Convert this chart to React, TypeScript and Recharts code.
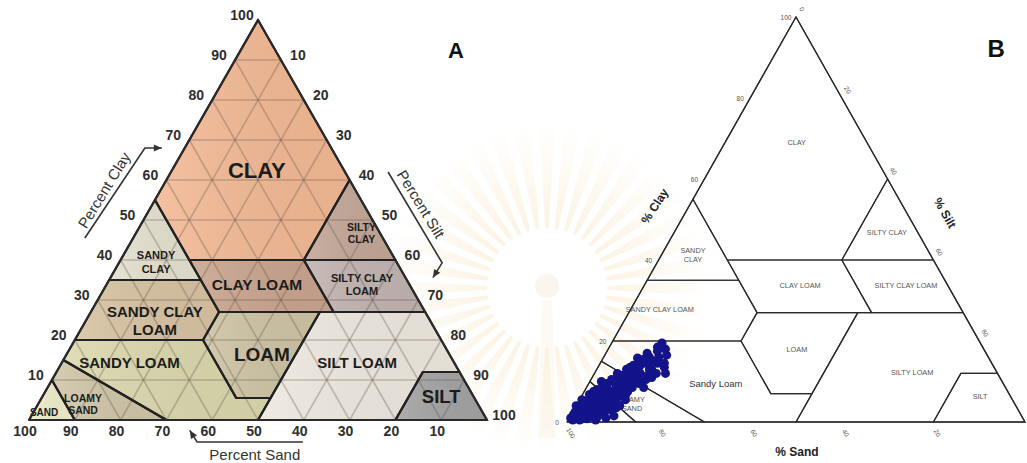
import React from "react";
import { ScatterChart, Scatter, XAxis, YAxis, ZAxis, ReferenceArea } from "recharts";

const FONT = "'Liberation Sans', Arial, Helvetica, sans-serif";

type Pt = [number, number]; // [sand %, clay %]

// texture classes, panel A (vertices as [sand, clay])
const A_CLAY: Pt[] = [[0, 100], [45, 55], [45, 40], [20, 40], [0, 60]];
const A_SILTY_CLAY: Pt[] = [[0, 60], [20, 40], [0, 40]];
const A_SANDY_CLAY: Pt[] = [[45, 55], [65, 35], [45, 35]];
const A_CLAY_LOAM: Pt[] = [[45, 40], [45, 27], [20, 27], [20, 40]];
const A_SILTY_CLAY_LOAM: Pt[] = [[20, 40], [20, 27], [0, 27], [0, 40]];
const A_SANDY_CLAY_LOAM: Pt[] = [[65, 35], [80, 20], [52, 20], [45, 27], [45, 35]];
const A_LOAM: Pt[] = [[45, 27], [52, 20], [52, 5.5], [44.5, 5.5], [23, 27]];
const A_SILT_LOAM: Pt[] = [[23, 27], [44.5, 5.5], [50, 0], [20, 0], [8, 12], [0, 12], [0, 27]];
const A_SILT: Pt[] = [[20, 0], [8, 12], [0, 12], [0, 0]];
const A_SANDY_LOAM: Pt[] = [[80, 20], [85, 15], [70, 0], [50, 0], [44.5, 5.5], [52, 5.5], [52, 20]];
const A_LOAMY_SAND: Pt[] = [[85, 15], [90, 10], [90, 0], [70, 0]];
const A_SAND: Pt[] = [[100, 0], [90, 10], [90, 0]];

// texture classes, panel B
const B_CLAY: Pt[] = [[0, 100], [45, 55], [45, 40], [20, 40], [0, 60]];
const B_SILTY_CLAY: Pt[] = [[0, 60], [20, 40], [0, 40]];
const B_SANDY_CLAY: Pt[] = [[45, 55], [65, 35], [45, 35]];
const B_CLAY_LOAM: Pt[] = [[45, 40], [45, 27], [20, 27], [20, 40]];
const B_SILTY_CLAY_LOAM: Pt[] = [[20, 40], [20, 27], [0, 27], [0, 40]];
const B_SANDY_CLAY_LOAM: Pt[] = [[65, 35], [80, 20], [52, 20], [45, 27], [45, 35]];
const B_LOAM: Pt[] = [[45, 27], [52, 20], [52, 7], [43, 7], [23, 27]];
const B_SILT_LOAM: Pt[] = [[23, 27], [43, 7], [50, 0], [20, 0], [8, 12], [0, 12], [0, 27]];
const B_SILT: Pt[] = [[20, 0], [8, 12], [0, 12], [0, 0]];
const B_SANDY_LOAM: Pt[] = [[80, 20], [85, 15], [70, 0], [50, 0], [43, 7], [52, 7], [52, 20]];
const B_LOAMY_SAND: Pt[] = [[85, 15], [90, 10], [85, 0], [70, 0]];
const B_SAND: Pt[] = [[100, 0], [90, 10], [85, 0]];

const A_REGIONS: [string, Pt[]][] = [
  ["CLAY", A_CLAY],
  ["SILTY CLAY", A_SILTY_CLAY],
  ["SANDY CLAY", A_SANDY_CLAY],
  ["CLAY LOAM", A_CLAY_LOAM],
  ["SILTY CLAY LOAM", A_SILTY_CLAY_LOAM],
  ["SANDY CLAY LOAM", A_SANDY_CLAY_LOAM],
  ["LOAM", A_LOAM],
  ["SILT LOAM", A_SILT_LOAM],
  ["SILT", A_SILT],
  ["SANDY LOAM", A_SANDY_LOAM],
  ["LOAMY SAND", A_LOAMY_SAND],
  ["SAND", A_SAND],
];

const B_REGIONS: [string, Pt[]][] = [
  ["CLAY", B_CLAY],
  ["SILTY CLAY", B_SILTY_CLAY],
  ["SANDY CLAY", B_SANDY_CLAY],
  ["CLAY LOAM", B_CLAY_LOAM],
  ["SILTY CLAY LOAM", B_SILTY_CLAY_LOAM],
  ["SANDY CLAY LOAM", B_SANDY_CLAY_LOAM],
  ["LOAM", B_LOAM],
  ["SILT LOAM", B_SILT_LOAM],
  ["SILT", B_SILT],
  ["SANDY LOAM", B_SANDY_LOAM],
  ["LOAMY SAND", B_LOAMY_SAND],
  ["SAND", B_SAND],
];

const A_FILL: Record<string, string> = {
  CLAY: "#f3b994",
  "SILTY CLAY": "#c3a797",
  "SANDY CLAY": "#e4e1cf",
  "CLAY LOAM": "#c9a48e",
  "SILTY CLAY LOAM": "#c1b3b0",
  "SANDY CLAY LOAM": "#d8c3a2",
  LOAM: "#cec3a4",
  "SILT LOAM": "#eee8df",
  SILT: "#a3a3a3",
  "SANDY LOAM": "#dbd8ad",
  "LOAMY SAND": "#d0c6a8",
  SAND: "#efedca",
};

// label text and anchor [sand, clay]
const A_LABELS: [string[], number, number][] = [
  [["CLAY"], 19, 62.5],
  [["SILTY", "CLAY"], 4, 46.8],
  [["SANDY", "CLAY"], 52.5, 39.5],
  [["CLAY LOAM"], 33.3, 33.8],
  [["SILTY CLAY", "LOAM"], 10.4, 33.8],
  [["SANDY CLAY", "LOAM"], 60, 25],
  [["LOAM"], 41, 16.3],
  [["SANDY LOAM"], 70.9, 14.3],
  [["SILT LOAM"], 21.1, 14.5],
  [["LOAMY", "SAND"], 86.2, 4],
  [["SAND"], 95.8, 1.8],
  [["SILT"], 7.1, 5.8],
];
const A_LABEL_SIZE: Record<string, number> = {
  CLAY: 22,
  "SILTY CLAY": 10.5,
  "SANDY CLAY": 11,
  "CLAY LOAM": 15.5,
  "SILTY CLAY LOAM": 11,
  "SANDY CLAY LOAM": 15,
  LOAM: 19,
  "SANDY LOAM": 15,
  "SILT LOAM": 15,
  "LOAMY SAND": 10.5,
  SAND: 10,
  SILT: 18.5,
};

const B_LABELS: [string[], number, number][] = [
  [["CLAY"], 15.4, 68.9],
  [["SILTY CLAY"], 6.8, 46.7],
  [["SANDY", "CLAY"], 51.9, 41.2],
  [["CLAY LOAM"], 32.3, 33.6],
  [["SILTY CLAY LOAM"], 9.2, 33.6],
  [["SANDY CLAY LOAM"], 65.9, 27.7],
  [["LOAM"], 40.8, 18],
  [["Sandy Loam"], 62.8, 9.4],
  [["SILTY LOAM"], 18.6, 12.1],
  [["SILT"], 6.7, 6.2],
  [["LOAMY", "SAND"], 83.6, 4.4],
];

const GRID_STEPS = [10, 20, 30, 40, 50, 60, 70, 80, 90];
const A_TICKS = [10, 20, 30, 40, 50, 60, 70, 80, 90, 100];
const B_CLAY_TICKS = [0, 20, 40, 60, 80, 100];
const B_SILT_TICKS = [0, 20, 40, 60, 80];
const B_SAND_TICKS = [20, 40, 60, 80, 100];

// measured samples (panel B), sand % and clay %
const SAND_PCT: number[] = [
  98.5, 96.2, 93.5, 91, 96.5, 94, 91, 89, 97, 94.5, 91.7, 89,
  95.5, 93, 90, 87.5, 86.5, 93.5, 90.5, 87.5, 84.5, 94, 91, 87.8, 85, 84, 91.7, 88.5, 83,
  89.5, 87, 84.5, 81.5, 79, 87.5, 84.5, 82, 79.5, 85, 82.5, 80, 77.5, 87.5, 83.5, 81, 76,
  83, 80.5, 78, 76, 72.5, 80.5, 78, 75.5, 72, 78.5, 75.5, 73, 76.5,
  76.7, 74, 72, 70, 74, 71.5, 69.5, 71, 69.5,
  96, 93, 91.5, 93.7, 92, 89.5, 93.5, 89, 90.2, 91, 86, 88.7, 88.5, 90, 94, 92.8,
  96, 98.7, 87, 82, 86.5, 82, 79, 78,
  98, 97, 95.2, 97.7, 93, 91, 95.5, 93, 91.5, 88.5, 86.5, 88.5, 94.5, 92.5, 90, 87, 85.5,
  90.5, 87.5, 85, 83.5, 87.5, 85, 83, 80.2, 82.5, 79, 78, 79.5, 77, 74, 75.5, 75, 74.5, 71.5,
];
const CLAY_PCT: number[] = [
  0.5, 0.8, 0.5, 1, 1.5, 1.5, 2, 1.5, 2.5, 2.5, 2.8, 3,
  3.5, 3.5, 4, 3.5, 4, 4.5, 5, 5, 5.5, 5.5, 6, 6.2, 6.5, 6.5, 6.8, 7, 7.5,
  8, 8, 8, 8.5, 8.5, 9, 9.5, 9.5, 9.5, 10.5, 10.5, 10.5, 10.5, 10, 11, 11, 11,
  12, 12, 12, 12, 12, 13, 13, 13, 13.5, 14, 14.5, 14.5, 15,
  15.8, 16, 16, 16.5, 17, 17.5, 18, 18.5, 19.5,
  2, 3, 3.5, 3.8, 4.5, 5, 5, 4.5, 5.8, 6.5, 7.5, 7.8, 6.5, 3, 2, 1.2,
  4, 1, 6, 9, 9.5, 11.5, 12, 11,
  1, 0.5, 0.8, 1.8, 2, 2.5, 3, 4, 4, 4, 5.5, 5.5, 4.5, 5.5, 6.5, 7.5, 7,
  7.5, 8.5, 8.5, 8, 9.5, 10, 9.5, 9.8, 11.5, 12.5, 11.5, 13.5, 14, 15, 15.5, 13, 12, 14.5,
];

// triangle corners: left (all sand), right (all silt), apex (all clay)
const CORNERS: Pt[] = [[100, 0], [0, 0], [0, 100], [100, 0]];

const toXY = (sand: number, clay: number) => ({ x: 100 - sand - clay / 2, y: clay });
const OUTLINE = CORNERS.map(([s, c]) => toXY(s, c));
const SAMPLES = SAND_PCT.map((s, i) => toXY(s, CLAY_PCT[i]));

type Box = { x: number; y: number; width: number; height: number };

const makeMap = (b: Box) => {
  const X = (u: number) => b.x + (u / 100) * b.width;
  const Y = (v: number) => b.y + (1 - v / 100) * b.height;
  const P = (s: number, c: number): [number, number] => [X(100 - s - c / 2), Y(c)];
  return { X, Y, P };
};

const polyStr = (P: (s: number, c: number) => [number, number], pts: Pt[]) =>
  pts.map(([s, c]) => P(s, c).join(",")).join(" ");

const arrowHead = (x1: number, y1: number, x2: number, y2: number, size = 8) => {
  const len = Math.hypot(x2 - x1, y2 - y1) || 1;
  const dx = (x2 - x1) / len;
  const dy = (y2 - y1) / len;
  const bx = x2 - dx * size;
  const by = y2 - dy * size;
  const w = size * 0.45;
  return `${x2},${y2} ${bx - dy * w},${by + dx * w} ${bx + dy * w},${by - dx * w}`;
};

const EmptyShape = () => <g />;

const MultiText = ({
  x,
  y,
  lines,
  size,
  gap,
  ...rest
}: {
  x: number;
  y: number;
  lines: string[];
  size: number;
  gap: number;
  [k: string]: any;
}) => (
  <text x={x} y={y} fontSize={size} textAnchor="middle" {...rest}>
    {lines.map((ln, i) => (
      <tspan key={i} x={x} y={y + (i - (lines.length - 1) / 2) * gap} dominantBaseline="central">
        {ln}
      </tspan>
    ))}
  </text>
);

const PanelA = (props: any) => {
  const { X, Y, P } = makeMap(props as Box);
  const tickColor = "#2e2e2e";
  const clayLine: [number, number][] = [[X(12.2), Y(45.5)], [X(25.3), Y(68)], [X(29), Y(68)]];
  const siltLine: [number, number][] = [[X(78.4), Y(62)], [X(90.2), Y(39.3)], [X(88.2), Y(35.6)]];
  const sandLine: [number, number][] = [[X(59.8), Y(-5.5)], [X(36.7), Y(-5.5)], [X(35.1), Y(-2.6)]];
  const path = (l: [number, number][]) => "M" + l.map((p) => p.join(",")).join(" L");
  const head = (l: [number, number][]) => arrowHead(l[1][0], l[1][1], l[2][0], l[2][1], 8);
  return (
    <g fontFamily={FONT}>
      <defs>
        <linearGradient id="shadeA" x1="0" y1="0" x2="1" y2="0">
          <stop offset="0" stopColor="#ffffff" stopOpacity={0.12} />
          <stop offset="1" stopColor="#000000" stopOpacity={0.04} />
        </linearGradient>
      </defs>
      {A_REGIONS.map(([name, pts]) => (
        <polygon key={name} points={polyStr(P, pts)} fill={A_FILL[name]} stroke="none" />
      ))}
      {A_REGIONS.map(([name, pts]) => (
        <polygon key={"g" + name} points={polyStr(P, pts)} fill="url(#shadeA)" stroke="none" />
      ))}
      <g stroke="#5a4c44" strokeOpacity={0.3} strokeWidth={1.6}>
        {GRID_STEPS.map((k) => {
          const a = P(100 - k, k), b = P(0, k);
          const c = P(k, 0), d = P(k, 100 - k);
          const e = P(100 - k, 0), f = P(0, 100 - k);
          return (
            <g key={k}>
              <line x1={a[0]} y1={a[1]} x2={b[0]} y2={b[1]} />
              <line x1={c[0]} y1={c[1]} x2={d[0]} y2={d[1]} />
              <line x1={e[0]} y1={e[1]} x2={f[0]} y2={f[1]} />
            </g>
          );
        })}
      </g>
      {A_REGIONS.map(([name, pts]) => (
        <polygon
          key={name}
          points={polyStr(P, pts)}
          fill="none"
          stroke="#222"
          strokeWidth={2.2}
          strokeLinejoin="round"
        />
      ))}
      {A_LABELS.map(([lines, s, c]) => {
        const key = lines.join(" ");
        const size = A_LABEL_SIZE[key];
        const [x, y] = P(s, c);
        return (
          <MultiText
            key={key}
            x={x}
            y={y}
            lines={lines}
            size={size}
            gap={size * 1.2}
            fill="#1c1c1c"
            fontWeight="bold"
          />
        );
      })}
      <g fontSize={14} fontWeight="bold" fill={tickColor} textAnchor="middle" dominantBaseline="central">
        {A_TICKS.map((t) => {
          const [x, y] = P(100 - t, t);
          return (
            <text key={"c" + t} x={x - 16} y={y - 5}>
              {t}
            </text>
          );
        })}
        {A_TICKS.map((t) => {
          const [x, y] = P(0, 100 - t);
          return (
            <text key={"s" + t} x={x + 17} y={y - 5}>
              {t}
            </text>
          );
        })}
        {A_TICKS.map((t) => {
          const [x, y] = P(t, 0);
          return (
            <text key={"d" + t} x={x - 4} y={y + 11}>
              {t}
            </text>
          );
        })}
      </g>
      <g stroke="#333" strokeWidth={1.6} fill="none">
        <path d={path(clayLine)} />
        <path d={path(siltLine)} />
        <path d={path(sandLine)} />
      </g>
      <g fill="#333">
        <polygon points={head(clayLine)} />
        <polygon points={head(siltLine)} />
        <polygon points={head(sandLine)} />
      </g>
      <g fontSize={15} fill="#333" textAnchor="middle" dominantBaseline="central">
        <text x={X(16.4)} y={Y(57.5)} transform={`rotate(-58.5 ${X(16.4)} ${Y(57.5)})`}>
          Percent Clay
        </text>
        <text x={X(85.6)} y={Y(54)} transform={`rotate(58.5 ${X(85.6)} ${Y(54)})`}>
          Percent Silt
        </text>
        <text x={X(49.3)} y={Y(-8.6)}>Percent Sand</text>
      </g>
      <text x={X(93.2)} y={Y(92.5)} fontSize={22} fontWeight="bold" fill="#111" textAnchor="middle" dominantBaseline="central">
        A
      </text>
    </g>
  );
};

const PanelB = (props: any) => {
  const { X, Y, P } = makeMap(props as Box);
  const grey = "#555";
  return (
    <g fontFamily={FONT}>
      {B_REGIONS.map(([name, pts]) => (
        <polygon
          key={name}
          points={polyStr(P, pts)}
          fill="none"
          stroke="#2a2a2a"
          strokeWidth={1.2}
          strokeLinejoin="round"
        />
      ))}
      {B_LABELS.map(([lines, s, c]) => {
        const key = lines.join(" ");
        const big = key === "Sandy Loam";
        const [x, y] = P(s, c);
        return (
          <MultiText
            key={key}
            x={x}
            y={y}
            lines={lines}
            size={big ? 9.5 : 7.3}
            gap={9}
            fill={big ? "#333" : grey}
          />
        );
      })}
      <g fontSize={6.5} fill={grey} textAnchor="middle" dominantBaseline="central">
        {B_CLAY_TICKS.map((t) => {
          const [x, y] = P(100 - t, t);
          return (
            <text key={"c" + t} x={x - 10} y={y}>
              {t}
            </text>
          );
        })}
        {B_SILT_TICKS.map((t) => {
          const [x0, y0] = P(0, 100 - t);
          const x = x0 + 6, y = y0 - 8;
          return (
            <text key={"s" + t} x={x} y={y} transform={`rotate(60 ${x} ${y})`}>
              {t}
            </text>
          );
        })}
        {B_SAND_TICKS.map((t) => {
          const [x0, y0] = P(t, 0);
          const x = x0 + 4, y = y0 + 11;
          return (
            <text key={"d" + t} x={x} y={y} transform={`rotate(60 ${x} ${y})`}>
              {t}
            </text>
          );
        })}
      </g>
      <g fontSize={12} fontWeight="bold" fill="#222" textAnchor="middle" dominantBaseline="central">
        <text x={X(19.2)} y={Y(53.3)} transform={`rotate(-57 ${X(19.2)} ${Y(53.3)})`}>
          % Clay
        </text>
        <text x={X(82.5)} y={Y(51.6)} transform={`rotate(60 ${X(82.5)} ${Y(51.6)})`}>
          % Silt
        </text>
        <text x={X(50.2)} y={Y(-7.4)}>% Sand</text>
      </g>
      <text x={X(93.7)} y={Y(92.3)} fontSize={24} fontWeight="bold" fill="#111" textAnchor="middle" dominantBaseline="central">
        B
      </text>
    </g>
  );
};

// faint emblem behind the charts
const Watermark = () => {
  const cx = 547;
  const cy = 288;
  const rays = Array.from({ length: 40 }, (_, i) => {
    const a = (i * 9 * Math.PI) / 180;
    const w1 = 0.03;
    const w2 = 0.05;
    const r1 = 60;
    const r2 = 165;
    const pts = [
      [cx + r1 * Math.cos(a - w1), cy + r1 * Math.sin(a - w1)],
      [cx + r2 * Math.cos(a - w2), cy + r2 * Math.sin(a - w2)],
      [cx + r2 * Math.cos(a + w2), cy + r2 * Math.sin(a + w2)],
      [cx + r1 * Math.cos(a + w1), cy + r1 * Math.sin(a + w1)],
    ];
    return pts.map((p) => p.join(",")).join(" ");
  });
  return (
    <svg width={1027} height={463} style={{ position: "absolute", left: 0, top: 0 }}>
      <defs>
        <radialGradient id="wm" cx={cx} cy={cy} r={165} gradientUnits="userSpaceOnUse">
          <stop offset="0.35" stopColor="#f5dca8" stopOpacity={0.32} />
          <stop offset="1" stopColor="#f5dca8" stopOpacity={0} />
        </radialGradient>
      </defs>
      {rays.map((r, i) => (
        <polygon key={i} points={r} fill="url(#wm)" />
      ))}
      <circle cx={cx} cy={cy - 2} r={12} fill="#f8eedc" opacity={0.5} />
      <path d={`M${cx - 5},${cy + 12} L${cx + 5},${cy + 12} L${cx + 9},${cy + 150} L${cx - 9},${cy + 150} Z`} fill="#f8eedc" opacity={0.35} />
    </svg>
  );
};

export default function App() {
  return (
    <div
      style={{
        position: "absolute",
        left: 0,
        top: 0,
        width: 1027,
        height: 463,
        background: "#fff",
        overflow: "hidden",
      }}
    >
      <Watermark />
      <div style={{ position: "absolute", left: 0, top: 0 }}>
        <ScatterChart width={520} height={463} margin={{ top: 20, right: 33, bottom: 43, left: 29 }}>
          <XAxis type="number" dataKey="x" domain={[0, 100]} hide />
          <YAxis type="number" dataKey="y" domain={[0, 100]} hide />
          <ReferenceArea x1={0} x2={100} y1={0} y2={100} shape={(p: any) => <PanelA {...p} />} />
          <Scatter
            data={OUTLINE}
            line={{ stroke: "#2a2a2a", strokeWidth: 2 }}
            shape={EmptyShape}
            isAnimationActive={false}
          />
        </ScatterChart>
      </div>
      <div style={{ position: "absolute", left: 540, top: 0 }}>
        <ScatterChart width={487} height={463} margin={{ top: 17, right: 2, bottom: 41, left: 27 }}>
          <XAxis type="number" dataKey="x" domain={[0, 100]} hide />
          <YAxis type="number" dataKey="y" domain={[0, 100]} hide />
          <ZAxis range={[50, 50]} />
          <ReferenceArea x1={0} x2={100} y1={0} y2={100} shape={(p: any) => <PanelB {...p} />} />
          <Scatter
            data={OUTLINE}
            line={{ stroke: "#2a2a2a", strokeWidth: 1.3 }}
            shape={EmptyShape}
            isAnimationActive={false}
          />
          <Scatter data={SAMPLES} fill="#13138a" isAnimationActive={false} />
        </ScatterChart>
      </div>
    </div>
  );
}
